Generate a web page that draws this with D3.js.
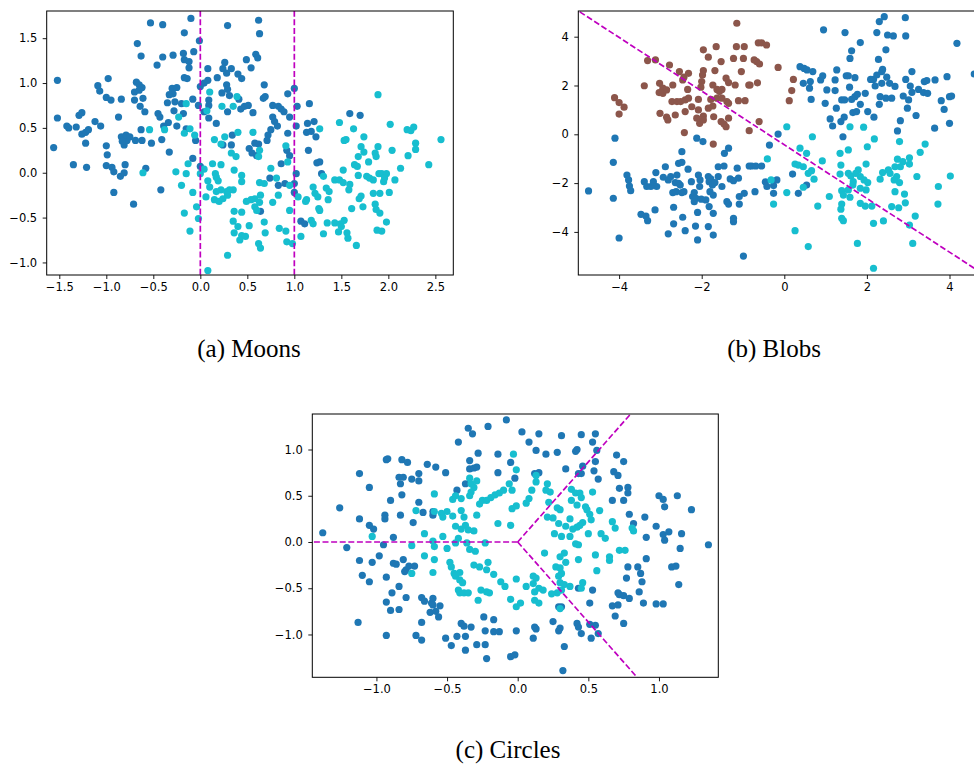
<!DOCTYPE html>
<html><head><meta charset="utf-8">
<script src="https://cdn.jsdelivr.net/npm/d3@7"></script>
<style>body{margin:0;background:#fff}svg{display:block}</style>
</head><body><svg id="chart" width="974" height="766"></svg>
<script>
// ---------------- DATA ----------------
const moonsBlue = [[-0.53,1.67],[-0.40,1.65],[-0.67,1.44],[-0.63,1.30],[-0.46,1.20],[-0.40,1.29],[-0.29,1.31],[-1.52,1.03],[-0.98,1.05],[-1.09,0.97],[-1.07,0.91],[-0.68,1.01],[-0.65,0.98],[-0.62,0.95],[-0.70,0.90],[-0.65,0.92],[-0.70,0.81],[-0.61,0.83],[-0.64,0.74],[-0.59,0.68],[-1.00,0.84],[-0.95,0.81],[-0.84,0.82],[-0.30,0.94],[-0.25,0.95],[-0.29,0.88],[-0.33,0.87],[-0.35,0.78],[-0.27,0.79],[-0.28,0.69],[-1.52,0.61],[-1.56,0.28],[-1.42,0.52],[-1.40,0.50],[-1.32,0.51],[-1.29,0.64],[-1.26,0.67],[-1.26,0.43],[-1.22,0.45],[-1.19,0.48],[-1.12,0.57],[-1.06,0.52],[-1.22,0.33],[-1.35,0.09],[-1.21,0.06],[-1.00,0.30],[-0.99,0.20],[-1.00,0.08],[-0.94,0.06],[-0.92,0.01],[-0.85,-0.04],[-0.81,0.00],[-0.80,0.09],[-0.92,-0.22],[-0.71,-0.35],[-0.87,0.62],[-0.84,0.40],[-0.81,0.31],[-0.78,0.36],[-0.79,0.42],[-0.75,0.40],[-0.83,0.35],[-0.69,0.36],[-0.62,0.36],[-0.63,0.48],[-0.58,0.05],[-0.52,0.33],[-0.45,0.66],[-0.43,0.62],[-0.39,0.52],[-0.41,0.37],[-0.33,0.23],[-0.42,-0.19],[-0.34,0.56],[-0.25,0.52],
[-0.10,1.72],[-0.17,1.56],[-0.01,1.47],[0.29,1.64],[0.62,1.70],[0.63,1.55],[-0.07,1.35],[-0.18,1.33],[-0.17,1.26],[-0.12,1.24],[-0.12,1.17],[-0.17,1.06],[-0.14,1.05],[0.08,1.16],[0.26,1.23],[0.24,1.16],[0.33,1.16],[0.28,1.11],[0.40,1.10],[0.44,1.05],[0.49,1.26],[0.54,1.17],[0.59,1.32],[0.61,1.28],[0.18,1.06],[0.08,1.03],[0.04,1.00],[0.00,0.96],[0.28,0.98],[0.29,0.93],[0.23,0.89],[0.31,0.86],[0.68,0.98],[0.09,0.81],[0.09,0.75],[-0.02,0.75],[-0.08,0.82],[-0.20,0.77],[0.04,0.68],[0.09,0.61],[0.17,0.55],[0.29,0.68],[0.41,0.82],[0.43,0.71],[0.47,0.74],[0.51,0.75],[0.56,0.67],[0.67,0.83],[0.69,0.85],[0.77,0.75],[0.83,0.74],[0.86,0.71],[0.89,0.68],[0.93,0.88],[1.00,0.94],[1.03,0.74],[0.95,0.62],[0.77,0.62],[0.79,0.57],[0.82,0.52],[0.75,0.48],[0.72,0.42],[0.71,0.36],[1.02,0.52],[0.93,0.44],[-0.18,0.66],[-0.15,0.49],[-0.05,0.36],[-0.08,0.16],[0.00,0.07],[0.34,0.42],[0.33,0.31],[0.24,0.31],[0.52,0.27],[0.58,0.33],[0.62,0.32],[0.55,0.22],[0.60,0.19],[0.86,0.10],[0.92,0.25],[0.95,0.19],[0.74,-0.06],[0.83,-0.14],[0.90,-0.12],[1.00,-0.12],[1.00,-0.22],[1.02,-0.01],[0.64,-0.43],[1.07,-0.54],[1.11,-0.57],
[1.16,0.77],[1.14,0.55],[1.21,0.57],[1.13,0.45],[1.18,0.46],[1.23,0.40],[1.15,0.25],[1.24,0.11],[1.27,0.12],[1.29,-0.01],[1.59,0.66],[1.70,0.64]];

const moonsCyan = [[-0.54,0.48],[-0.38,0.48],[-0.23,0.62],[-0.26,0.01],[-0.61,0.00],
[0.10,0.90],[-0.15,0.77],[0.07,0.69],[0.35,0.74],[0.39,0.85],[0.23,0.74],[-0.17,0.44],[-0.11,0.49],[-0.06,0.42],[0.15,0.37],[0.22,0.32],[0.26,0.40],[0.40,0.45],[0.56,0.45],[0.33,0.22],[0.38,0.18],[0.62,0.18],[0.63,0.25],[0.91,0.30],[0.93,0.12],[-0.13,0.10],[-0.15,-0.01],[-0.20,-0.14],[0.00,-0.01],[0.04,0.04],[0.13,0.10],[0.22,0.09],[0.16,-0.01],[0.17,-0.05],[0.08,-0.09],[0.10,-0.16],[0.19,-0.09],[0.36,0.03],[0.44,-0.03],[0.44,-0.10],[0.35,-0.19],[0.31,-0.19],[0.28,-0.21],[0.22,-0.19],[0.17,-0.21],[0.15,-0.30],[0.20,-0.32],[0.24,-0.29],[0.29,-0.25],[0.06,-0.27],[-0.08,-0.22],[-0.04,-0.38],[-0.17,-0.45],[-0.02,-0.51],[-0.11,-0.65],[0.08,-1.09],[0.29,-0.92],[0.36,-0.43],[0.44,-0.44],[0.35,-0.54],[0.40,-0.60],[0.36,-0.67],[0.44,-0.70],[0.48,-0.71],[0.42,-0.75],[0.52,-0.59],[0.62,-0.79],[0.64,-0.84],[0.69,-0.67],[0.68,-0.55],[0.63,-0.33],[0.64,-0.25],[0.58,-0.29],[0.54,-0.30],[0.49,-0.32],[0.58,-0.38],[0.60,-0.42],[0.63,-0.11],[0.68,-0.12],[0.75,0.05],[0.81,-0.06],[0.83,-0.25],[0.77,-0.33],[0.95,-0.14],[1.04,-0.27],[0.95,-0.42],[0.84,-0.62],[0.91,-0.65],[0.92,-0.77],[0.98,-0.79],[1.07,-0.71],
[1.27,0.49],[1.48,0.56],[1.63,0.49],[1.74,0.40],[1.55,0.37],[1.53,0.36],[1.89,0.87],[2.02,0.54],[2.20,0.48],[2.24,0.47],[2.27,0.51],[2.56,0.37],[2.29,0.33],[2.29,0.26],[2.04,0.25],[2.21,0.19],[1.89,0.29],[1.86,0.22],[1.71,0.29],[1.74,0.23],[1.68,0.18],[1.64,0.09],[1.67,0.07],[1.79,0.12],[1.87,0.18],[2.43,0.09],[2.13,0.05],[1.52,0.03],[1.31,-0.04],[1.43,-0.08],[1.48,-0.08],[1.52,-0.11],[1.59,-0.13],[1.58,-0.19],[1.68,-0.03],[1.77,-0.04],[1.80,-0.06],[1.84,-0.08],[1.90,-0.01],[1.93,-0.01],[1.98,-0.01],[1.95,-0.10],[1.96,-0.06],[2.07,-0.08],[1.20,-0.16],[1.22,-0.23],[1.25,-0.27],[1.34,-0.17],[1.37,-0.21],[1.13,-0.30],[1.12,-0.32],[1.26,-0.40],[1.27,-0.42],[1.36,-0.30],[1.69,-0.29],[1.71,-0.26],[1.84,-0.23],[1.91,-0.23],[2.01,-0.22],[1.61,-0.40],[1.73,-0.38],[1.86,-0.35],[1.87,-0.41],[1.91,-0.45],[1.98,-0.55],[1.18,-0.53],[1.20,-0.57],[1.31,-0.68],[1.35,-0.56],[1.43,-0.56],[1.49,-0.57],[1.50,-0.60],[1.53,-0.53],[1.47,-0.66],[1.56,-0.67],[1.57,-0.73],[1.66,-0.81],[1.88,-0.64],[1.93,-0.65]];

const blobsBrown = [[-3.39,1.99],[-3.31,3.02],[-3.12,3.05],[-2.78,2.84],[-3.02,2.09],[-3.03,1.71],[-2.94,1.89],[-2.94,1.68],[-2.85,1.82],[-2.70,2.02],[-2.72,1.34],[-2.60,1.34],[-2.54,2.57],[-2.46,2.23],[-2.43,2.34],[-2.32,2.50],[-2.51,1.34],[-2.40,1.41],[-2.34,1.84],[-2.32,1.48],[-2.24,1.13],[-2.40,0.93],[-3.01,0.86],[-2.85,0.70],[-2.82,0.59],[-2.64,0.79],[-4.11,1.50],[-4.00,1.30],[-3.88,1.11],[-4.00,0.83],[-2.42,0.07],[-1.96,2.61],[-1.98,2.43],[-1.96,3.46],[-2.00,2.16],[-2.02,1.93],[-2.08,1.43],[-2.12,0.66],[-2.05,0.45],[-1.96,0.75],[-1.84,3.16],[-1.68,2.61],[-1.65,3.59],[-1.53,2.98],[-1.73,2.02],[-1.63,1.84],[-1.57,1.75],[-1.51,1.84],[-1.78,1.43],[-1.73,1.16],[-1.63,1.48],[-1.84,1.07],[-1.71,0.72],[-1.72,-0.40],[-1.51,1.48],[-1.39,1.34],[-1.35,1.27],[-1.41,2.30],[-1.35,2.12],[-1.53,0.52],[-1.46,0.42],[-1.41,0.31],[-1.35,0.66],[-1.19,2.02],[-1.23,3.11],[-1.15,4.55],[-1.16,3.59],[-0.97,3.59],[-0.99,3.11],[-1.04,2.57],[-1.11,1.38],[-0.95,1.38],[-0.86,2.02],[-0.85,0.15],[-0.63,3.75],[-0.55,3.75],[-0.43,3.66],[-0.67,2.98],[-0.60,2.88],[-0.73,3.05],[-0.83,2.02],[-0.65,2.11],[-0.61,0.52],[-0.15,2.74],[0.22,2.25],[0.18,1.79],[0.12,1.38],[-2.08,1.00],[-1.96,0.59]];

const blobsBlue = [[-4.74,-2.32],[-4.10,-0.16],[-4.14,-1.15],[-4.14,-2.62],[-4.00,-4.25],[-3.81,-1.67],[-3.77,-1.87],[-3.75,-2.12],[-3.72,-2.31],[-3.47,-3.28],[-3.35,-3.35],[-3.31,-3.54],[-3.39,-1.94],[-3.33,-2.14],[-3.23,-2.14],[-3.17,-1.94],[-3.09,-2.14],[-3.11,-1.57],[-3.13,-3.10],[-2.93,-1.76],[-2.88,-1.33],[-2.81,-1.87],[-2.75,-1.73],[-2.60,-1.67],[-2.56,-1.19],[-2.48,-0.71],[-2.48,-1.15],[-2.64,-1.98],[-2.56,-2.01],[-2.52,-2.08],[-2.70,-2.39],[-2.62,-2.35],[-2.48,-2.39],[-2.43,-2.35],[-2.68,-2.99],[-2.68,-3.67],[-2.46,-3.40],[-2.81,-4.08],[-2.40,-3.95],[-2.33,-1.43],[-2.25,-1.94],[-2.22,-2.55],[-2.18,-2.39],[-2.14,-2.62],[-2.18,-2.76],[-2.15,-3.76],[-2.10,-4.33],[-2.10,-3.20],[-2.08,-1.67],[-2.04,-1.87],[-2.05,-2.14],[-2.01,-2.66],[-1.90,-2.69],[-2.12,-0.16],[-1.97,-0.30],[-1.84,-1.73],[-1.82,-1.94],[-1.78,-1.83],[-1.74,-2.08],[-1.80,-2.35],[-1.68,-1.98],[-1.72,-2.49],[-1.82,-2.96],[-1.72,-3.24],[-1.84,-3.78],[-1.72,-4.13],[-1.60,-1.33],[-1.46,-1.30],[-1.60,-1.73],[-1.51,-2.14],[-1.45,-0.78],[-1.35,-0.57],[-1.39,-2.76],[-1.35,-2.86],[-1.31,-1.83],[-1.23,-1.90],[-1.11,-1.80],[-1.14,-1.39],[-1.23,-3.44],[-1.23,-3.58],[-1.09,-2.55],[-1.09,-2.86],[-0.97,-2.42],[-0.99,-4.99],[-0.85,-1.30],[-0.79,-1.30],[-0.69,-1.30],[-0.55,-1.30],[-0.71,-2.35],[-0.36,-0.44],[-0.15,0.01],[-0.46,-1.95],[-0.42,-2.14],[-0.26,-2.10],[-0.18,-1.87],[-0.26,-2.42],[0.20,-1.63],[0.34,-2.42],[0.54,-2.08],
[0.95,4.28],[1.47,4.17],[1.59,3.11],[1.63,3.42],[1.84,3.76],[2.24,4.17],[2.30,4.62],[2.42,4.82],[2.50,4.07],[2.64,4.03],[2.93,4.78],[2.94,4.03],[2.46,3.46],[2.28,3.07],[4.18,3.73],[4.60,2.47],[0.38,2.77],[0.48,2.70],[0.55,2.64],[0.69,2.57],[0.46,2.09],[0.61,1.89],[0.63,2.16],[0.65,1.43],[0.88,2.23],[0.93,2.40],[0.99,1.27],[1.03,1.82],[1.23,1.79],[1.23,2.23],[1.27,2.64],[1.26,1.07],[1.11,0.63],[1.17,0.34],[1.39,1.41],[1.46,1.41],[1.50,2.40],[1.55,2.40],[1.58,1.93],[1.71,2.32],[1.63,1.43],[1.71,1.54],[1.77,1.64],[1.84,1.23],[1.66,0.89],[1.75,0.93],[1.37,0.52],[1.45,0.70],[1.42,-0.10],[1.96,1.68],[2.02,0.93],[2.09,2.25],[2.16,2.25],[2.20,1.98],[2.24,2.43],[2.36,2.57],[2.38,2.66],[2.32,1.54],[2.36,2.09],[2.30,1.23],[2.17,0.70],[2.46,1.48],[2.48,2.34],[2.55,2.09],[2.60,1.48],[2.68,1.96],[2.88,1.57],[2.94,2.25],[3.05,1.98],[3.01,1.41],[2.98,1.07],[3.09,2.57],[3.09,1.72],[3.19,0.77],[3.25,1.84],[3.39,2.16],[3.45,2.20],[3.37,1.71],[3.47,1.68],[3.65,2.23],[3.80,1.38],[3.87,1.02],[3.94,2.36],[4.00,1.54],[4.05,1.57],[4.00,0.45],[3.64,0.25],[2.81,0.56],[2.74,0.14]];

const blobsCyan = [[0.06,0.31],[0.68,-0.10],[0.38,-0.57],[0.54,-0.78],[0.26,-1.22],[0.34,-1.26],[0.46,-1.33],[0.58,-1.60],[0.66,-1.49],[0.72,-1.84],[0.92,-1.09],[0.46,-2.17],[0.06,-2.39],[-0.26,-2.86],[-0.41,-1.01],[-0.32,-1.87],[0.81,-2.94],[1.09,-2.55],[0.26,-3.95],[0.58,-4.60],[1.35,-0.78],[1.37,-1.26],[1.35,-1.63],[1.55,-0.64],[1.59,0.31],[1.92,0.29],[2.01,-0.51],[2.18,-0.19],[1.98,-1.22],[1.79,-1.46],[1.73,-1.60],[1.61,-1.71],[1.55,-1.60],[1.67,-1.94],[1.66,-2.08],[1.55,-2.28],[1.39,-2.31],[1.43,-2.49],[1.59,-2.58],[1.39,-2.86],[1.37,-3.07],[1.39,-3.44],[1.43,-3.54],[1.77,-4.47],[1.84,-1.73],[1.93,-1.87],[1.84,-2.21],[1.98,-2.28],[2.02,-1.98],[1.84,-2.83],[1.96,-2.94],[2.12,-2.94],[2.16,-3.65],[2.16,-5.49],[2.32,-1.84],[2.38,-1.57],[2.52,-1.46],[2.56,-1.60],[2.68,-1.33],[2.74,-1.02],[2.87,-1.12],[2.81,-1.33],[2.72,-1.73],[2.79,-1.98],[2.66,-1.87],[2.68,-2.35],[2.60,-2.96],[2.77,-3.01],[2.40,-3.55],[2.91,-2.45],[2.93,-2.81],[3.03,-0.96],[3.03,-1.22],[2.79,-0.30],[3.21,-1.73],[3.29,-0.74],[3.41,-0.40],[3.17,-3.35],[3.03,-3.72],[3.11,-4.47],[3.73,-2.14],[3.72,-2.86],[4.02,-1.71]];

const circlesBlue = [[-1.38,0.10],[-1.26,0.37],[-1.21,-0.06],[-1.12,0.74],[-1.12,0.25],[-1.12,-0.20],[-1.10,-0.36],[-1.13,-0.87],[-1.05,0.59],[-1.05,0.18],[-1.02,0.14],[-1.03,-0.22],[-1.05,-0.43],[-0.98,-0.15],[-0.95,-0.03],[-0.94,0.29],[-0.94,0.25],[-0.93,0.89],[-0.92,0.90],[-0.90,0.45],[-0.88,0.05],[-0.88,-0.23],[-0.86,-0.24],[-0.93,-0.38],[-0.89,-0.55],[-0.93,-0.65],[-0.90,-0.74],[-0.93,-1.01],[-0.84,-0.73],[-0.84,-0.48],[-0.82,0.89],[-0.84,0.70],[-0.83,0.63],[-0.83,0.29],[-0.82,0.51],[-0.81,0.70],[-0.78,0.86],[-0.81,-0.19],[-0.80,-0.32],[-0.79,-0.30],[-0.77,-0.26],[-0.79,-0.60],[-0.75,0.68],[-0.74,0.21],[-0.73,-0.26],[-0.70,0.74],[-0.70,0.66],[-0.70,0.43],[-0.72,-1.01],[-0.68,-1.06],[-0.68,-0.87],[-0.68,-0.60],[-0.67,0.32],[-0.64,0.84],[-0.66,-0.64],[-0.62,-0.76],[-0.61,-0.66],
[-0.35,1.23],[-0.32,1.17],[-0.21,1.25],[-0.08,1.32],[0.03,1.19],[-0.42,1.08],[-0.28,0.96],[-0.14,0.95],[-0.34,0.88],[-0.34,0.79],[-0.31,0.80],[-0.29,0.81],[-0.58,0.81],[-0.51,0.75],[-0.14,0.75],[-0.05,0.86],[-0.02,0.69],[-0.37,0.63],[-0.43,0.56],[-0.60,0.33],[-0.60,0.29],[-0.60,-0.61],[-0.60,-0.68],[-0.58,-0.75],[-0.55,-0.69],[-0.56,-0.81],[-0.51,-1.04],[-0.47,-1.12],[-0.43,-1.02],[-0.40,-0.88],[-0.38,-0.91],[-0.37,-1.02],[-0.33,-0.92],[-0.37,-1.17],[-0.29,-1.11],[-0.24,-0.81],[-0.23,-0.96],[-0.23,-1.11],[-0.22,-1.26],[-0.17,-0.84],[-0.17,-0.97],[-0.13,-0.97],[-0.05,-1.24],[-0.02,-1.22],[-0.01,-0.96],
[0.15,1.17],[0.08,1.08],[0.13,0.99],[0.20,0.95],[0.28,0.97],[0.31,1.15],[0.41,0.98],[0.42,1.00],[0.45,1.16],[0.53,1.08],[0.55,1.17],[0.56,0.99],[0.55,0.87],[0.54,0.77],[0.46,0.82],[0.45,0.74],[0.43,0.74],[0.34,0.79],[0.57,0.68],[0.70,0.94],[0.75,0.87],[0.68,0.76],[0.71,0.72],[0.72,0.58],[0.78,0.59],[0.78,0.53],[0.75,0.45],[0.67,0.45],[0.79,0.30],[0.82,0.20],[0.90,0.27],[0.12,0.74],[0.15,0.75],[0.78,-0.27],[0.77,-0.39],[0.85,-0.27],[0.87,-0.34],[0.88,-0.43],[0.86,-0.54],[0.71,-0.55],[0.72,-0.57],[0.75,-0.58],[0.79,-0.61],[0.71,-0.68],[0.67,-0.69],[0.69,-0.80],[0.75,-0.88],[0.53,-0.52],[0.51,-0.66],[0.43,-0.50],[0.29,-0.70],[0.31,-0.70],[0.25,-0.86],[0.30,-0.93],[0.29,-0.96],[0.12,-0.92],[0.13,-0.94],[0.11,-1.04],[0.33,-1.13],[0.32,-1.39],[0.42,-0.88],[0.43,-0.92],[0.45,-0.99],[0.51,-0.89],[0.55,-0.90],[0.52,-1.04],[0.57,-0.99],
[1.00,0.50],[1.03,0.46],[1.04,0.38],[1.13,0.50],[1.23,0.35],[0.98,0.17],[0.91,0.05],[1.03,0.08],[1.04,0.02],[1.07,0.11],[1.16,0.09],[1.15,-0.07],[1.35,-0.03],[0.91,-0.18],[0.89,-0.66],[0.98,-0.67],[1.03,-0.67],[1.09,-0.27],[1.12,-0.26],[1.14,-0.46]];

const circlesCyan = [[-1.03,0.06],[-0.75,-0.04],[-0.75,-0.34],[-0.66,0.09],[-0.66,-0.15],[-0.72,0.34],
[-0.59,0.52],[-0.59,0.33],[-0.60,0.01],[-0.59,-0.05],[-0.59,-0.19],[-0.60,-0.33],[-0.53,0.06],[-0.50,-0.07],[-0.54,0.31],[-0.53,0.27],[-0.50,0.33],[-0.46,0.28],[-0.40,0.34],[-0.38,0.27],[-0.44,0.17],[-0.40,0.14],[-0.37,0.18],[-0.35,0.13],[-0.31,0.12],[-0.42,0.04],[-0.44,-0.01],[-0.36,-0.01],[-0.34,-0.08],[-0.30,-0.10],[-0.23,-0.01],[-0.48,-0.22],[-0.47,-0.27],[-0.45,-0.34],[-0.44,-0.37],[-0.41,-0.33],[-0.41,-0.41],[-0.39,-0.44],[-0.42,-0.52],[-0.41,-0.55],[-0.38,-0.55],[-0.35,-0.55],[-0.28,-0.63],[-0.26,-0.52],[-0.22,-0.54],[-0.20,-0.55],[-0.31,-0.25],[-0.27,-0.27],[-0.22,-0.30],[-0.21,-0.22],[-0.17,-0.35],[-0.12,-0.43],[-0.09,-0.48],[-0.01,-0.40],[-0.05,-0.62],[-0.01,-0.70],[0.02,-0.66],[-0.34,0.69],[-0.33,0.63],[-0.31,0.59],[-0.29,0.66],[-0.33,0.54],[-0.34,0.50],[-0.46,0.46],[-0.44,0.50],[-0.40,0.47],[-0.27,0.41],[-0.25,0.45],[-0.22,0.45],[-0.19,0.48],[-0.16,0.51],[-0.13,0.53],[-0.10,0.56],[-0.06,0.63],[-0.04,0.56],[-0.03,0.95],[-0.01,0.78],[-0.29,0.29],[-0.14,0.20],[-0.05,0.18],[-0.04,0.36],[-0.01,0.39],
[0.13,0.72],[0.13,0.65],[0.21,0.63],[0.20,0.56],[0.23,0.54],[0.10,0.56],[0.08,0.47],[0.06,0.42],[0.22,0.43],[0.28,0.37],[0.30,0.35],[0.21,0.27],[0.25,0.26],[0.29,0.20],[0.34,0.17],[0.37,0.25],[0.38,0.57],[0.41,0.53],[0.44,0.53],[0.45,0.48],[0.38,0.45],[0.42,0.40],[0.48,0.38],[0.49,0.35],[0.51,0.30],[0.53,0.54],[0.58,0.34],[0.52,0.24],[0.46,0.21],[0.44,0.18],[0.42,0.16],[0.39,0.14],[0.37,0.06],[0.31,0.06],[0.26,0.09],[0.50,0.09],[0.41,-0.02],[0.43,-0.03],[0.43,-0.19],[0.33,-0.12],[0.30,-0.16],[0.19,-0.12],[0.34,-0.22],[0.27,-0.27],[0.30,-0.28],[0.31,-0.34],[0.29,-0.37],[0.30,-0.44],[0.33,-0.46],[0.37,-0.48],[0.31,-0.52],[0.28,-0.55],[0.24,-0.56],[0.11,-0.37],[0.13,-0.39],[0.11,-0.45],[0.06,-0.48],[0.15,-0.50],[0.12,-0.54],[0.18,-0.52],[0.12,-0.63],[0.15,-0.66],[0.30,-0.72],[0.46,-0.44],[0.45,-0.50],[0.56,-0.31],[0.55,-0.14],[0.65,-0.16],[0.65,-0.20],[0.72,-0.09],[0.76,-0.09],[0.59,0.09],[0.62,0.04],[0.67,0.22],[0.69,0.15],[0.81,0.15],[0.82,0.12]];

const moonsXTicks = [-1.5,-1.0,-0.5,0.0,0.5,1.0,1.5,2.0,2.5];
const moonsYTicks = [-1.0,-0.5,0.0,0.5,1.0,1.5];
const blobsXTicks = [-4,-2,0,2,4];
const blobsYTicks = [-4,-2,0,2,4];
const circlesXTicks = [-1.0,-0.5,0.0,0.5,1.0];
const circlesYTicks = [-1.0,-0.5,0.0,0.5,1.0];

const moonsBoundaries = [[[0,-2],[0,2]],[[1,-2],[1,2]]];
const blobsBoundaries = [[[-6,6.17],[6,-7.03]]];
const circlesBoundaries = [[[0,0],[-2,0]],[[0,0],[1,1.732]],[[0,0],[1,-1.732]]];

const captions = ["(a) Moons","(b) Blobs","(c) Circles"];

// ---------------- STYLE / LAYOUT ----------------
const BLUE = "#1f77b4", CYAN = "#17becf", BROWN = "#8c564b", MAG = "#bf00bf";
const svg = d3.select("#chart");
svg.append("rect").attr("width",974).attr("height",766).attr("fill","#fff");

const panels = [
  {id:"a", left:46.7, right:453.3, top:11, bottom:275, xdom:[-1.634,2.691], ydom:[-1.140,1.803],
   series:[[moonsBlue,BLUE],[moonsCyan,CYAN]], bounds:moonsBoundaries, xt:moonsXTicks, yt:moonsYTicks, fmt:d3.format(".1f"),
   cap:captions[0], capX:249, capY:357},
  {id:"b", left:578.3, right:984.9, top:11, bottom:275, xdom:[-4.988,4.857], ydom:[-5.766,5.053],
   series:[[blobsBrown,BROWN],[blobsBlue,BLUE],[blobsCyan,CYAN]], bounds:blobsBoundaries, xt:blobsXTicks, yt:blobsYTicks, fmt:d3.format("d"),
   cap:captions[1], capX:774, capY:357},
  {id:"c", left:312.3, right:718.3, top:414, bottom:677.3, xdom:[-1.454,1.420], ydom:[-1.463,1.384],
   series:[[circlesBlue,BLUE],[circlesCyan,CYAN]], bounds:circlesBoundaries, xt:circlesXTicks, yt:circlesYTicks, fmt:d3.format(".1f"),
   cap:captions[2], capX:508, capY:758}
];

panels.forEach(p => {
  const x = d3.scaleLinear().domain(p.xdom).range([p.left, p.right]);
  const y = d3.scaleLinear().domain(p.ydom).range([p.bottom, p.top]);
  const g = svg.append("g");
  const clipId = "clip-" + p.id;
  svg.append("clipPath").attr("id", clipId).append("rect")
    .attr("x", p.left).attr("y", p.top).attr("width", p.right - p.left).attr("height", p.bottom - p.top);
  const plot = g.append("g").attr("clip-path", `url(#${clipId})`);
  p.series.forEach(([data, color]) => {
    plot.append("g").selectAll("circle").data(data).join("circle")
      .attr("cx", d => x(d[0])).attr("cy", d => y(d[1])).attr("r", 3.6).attr("fill", color);
  });
  const line = d3.line().x(d => x(d[0])).y(d => y(d[1]));
  p.bounds.forEach(b => {
    plot.append("path").attr("d", line(b)).attr("fill","none").attr("stroke", MAG)
      .attr("stroke-width", 1.7).attr("stroke-dasharray", "6,2.6");
  });
  g.append("rect").attr("x", p.left).attr("y", p.top).attr("width", p.right - p.left).attr("height", p.bottom - p.top)
    .attr("fill","none").attr("stroke","#000").attr("stroke-width",1);
  const xa = g.append("g").attr("transform", `translate(0,${p.bottom})`)
    .call(d3.axisBottom(x).tickValues(p.xt).tickFormat(p.fmt).tickSize(4).tickPadding(4));
  const ya = g.append("g").attr("transform", `translate(${p.left},0)`)
    .call(d3.axisLeft(y).tickValues(p.yt).tickFormat(p.fmt).tickSize(4).tickPadding(5.5));
  [xa, ya].forEach(a => {
    a.select(".domain").remove();
    a.selectAll("line").attr("stroke","#000").attr("stroke-width",0.9);
    a.selectAll("text").attr("fill","#000").style("font-family","'DejaVu Sans', sans-serif").style("font-size","11.5px");
  });
  svg.append("text").attr("x", p.capX).attr("y", p.capY).attr("text-anchor","middle")
    .style("font-family","'Liberation Serif', 'Times New Roman', serif").style("font-size","25px")
    .attr("fill","#000").text(p.cap);
});
</script>
</body></html>
